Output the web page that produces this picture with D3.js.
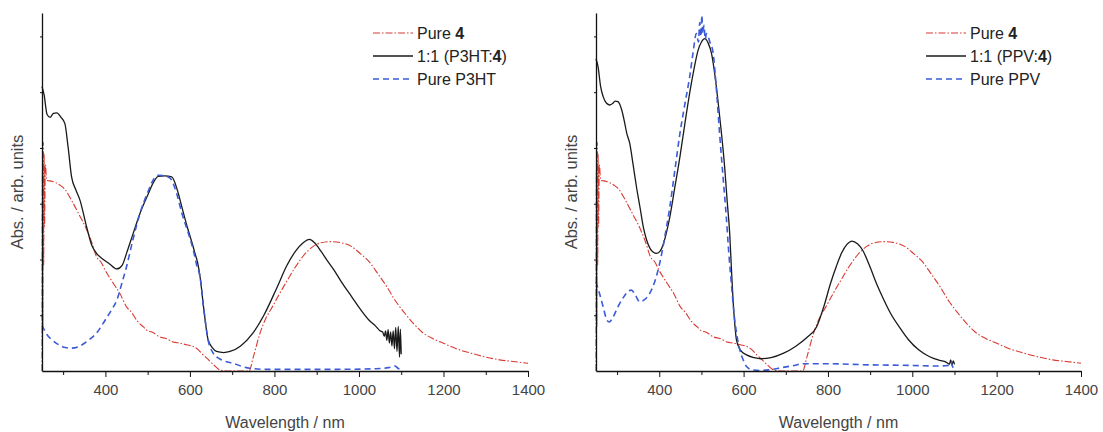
<!DOCTYPE html>
<html>
<head>
<meta charset="utf-8">
<script src="https://cdn.jsdelivr.net/npm/d3@7"></script>
<style>
  body { margin: 0; background: #fff; }
  svg { font-family: "Liberation Sans", Arial, sans-serif; }
  .tick text { fill: #444; font-size: 15px; }
  .domain, .tick line { stroke: #111; }
</style>
</head>
<body>
<svg id="chart" width="1103" height="432"></svg>
<script>
// wavelength (nm), absorbance (arb. units) pairs
var pure4 = [[250,0],[251,3.6],[252,0.8],[253,4.1],[254,1.9],[255,3.9],[256,2.6],[258,3.7],[261,3.42],[275,3.4],[293,3.33],[305,3.25],[320,3.06],[338,2.8],[356,2.53],[368,2.3],[379,2.05],[390,1.95],[400,1.8],[419,1.57],[435,1.38],[450,1.15],[462,1.05],[475,0.9],[490,0.79],[500,0.72],[510,0.7],[529,0.61],[545,0.58],[560,0.52],[577,0.5],[592,0.47],[608,0.44],[620,0.38],[630,0.3],[640,0.23],[655,0.12],[671,0.02],[690,0],[740,0],[750,0.25],[766,0.68],[780,0.95],[795,1.15],[808,1.33],[830,1.62],[850,1.87],[870,2.08],[891,2.23],[910,2.3],[933,2.32],[958,2.3],[983,2.23],[1004,2.1],[1024,1.96],[1045,1.74],[1066,1.51],[1087,1.25],[1108,1.04],[1128,0.86],[1149,0.7],[1175,0.58],[1199,0.5],[1230,0.4],[1265,0.32],[1300,0.25],[1333,0.2],[1365,0.17],[1400,0.14]];

var blendP3HT = [[250,5.1],[255,4.95],[262,4.6],[269,4.55],[277,4.62],[285,4.63],[295,4.55],[304,4.44],[312,4.0],[320,3.48],[330,3.25],[340,3.06],[355,2.6],[368,2.25],[379,2.11],[395,2.0],[410,1.92],[427,1.83],[440,1.9],[450,2.11],[465,2.45],[482,2.83],[500,3.15],[515,3.4],[525,3.49],[540,3.5],[557,3.48],[570,3.25],[581,2.94],[595,2.55],[605,2.3],[612,2.11],[618,1.95],[624,1.69],[633,1.1],[643,0.56],[653,0.42],[663,0.35],[680,0.33],[695,0.35],[720,0.45],[749,0.68],[775,1.0],[805,1.48],[830,1.9],[850,2.15],[868,2.3],[883,2.36],[895,2.3],[910,2.15],[925,1.98],[941,1.81],[960,1.58],[983,1.33],[1004,1.1],[1024,0.91],[1040,0.8],[1050,0.72],[1056,0.7],[1060,0.62],[1063,0.72],[1066,0.55],[1069,0.74],[1072,0.5],[1075,0.7],[1078,0.45],[1081,0.72],[1084,0.4],[1087,0.78],[1090,0.35],[1093,0.8],[1096,0.25],[1098,0.75],[1100,0.3]];

var pureP3HT = [[250,0.82],[262,0.65],[275,0.55],[290,0.47],[305,0.42],[320,0.41],[340,0.45],[360,0.55],[379,0.68],[400,0.92],[415,1.1],[427,1.27],[440,1.6],[450,1.87],[465,2.35],[482,2.83],[500,3.2],[515,3.45],[525,3.51],[540,3.5],[553,3.46],[568,3.2],[581,2.83],[595,2.5],[608,2.17],[616,1.9],[624,1.69],[633,1.1],[643,0.56],[655,0.32],[670,0.22],[685,0.17],[702,0.14],[720,0.09],[742,0.05],[780,0.03],[850,0.03],[950,0.03],[1040,0.04],[1070,0.06],[1085,0.09],[1092,0.05],[1100,0.03]];

var blendPPV = [[250,5.6],[255,5.45],[261,5.1],[267,4.92],[275,4.8],[283,4.77],[290,4.8],[295,4.84],[302,4.83],[311,4.68],[318,4.45],[323,4.26],[330,4.08],[338,3.7],[346,3.3],[354,2.95],[362,2.59],[370,2.35],[378,2.2],[386,2.13],[394,2.11],[402,2.15],[409,2.26],[417,2.48],[425,2.76],[437,3.3],[449,3.84],[461,4.45],[472,4.98],[482,5.4],[492,5.75],[500,5.9],[508,5.96],[516,5.88],[524,5.69],[532,5.3],[539,4.86],[547,4.3],[555,3.66],[561,3.05],[567,2.47],[571,1.85],[575,1.27],[579,0.85],[583,0.56],[592,0.38],[607,0.29],[625,0.24],[641,0.22],[665,0.24],[695,0.32],[723,0.44],[750,0.6],[773,0.79],[790,1.15],[806,1.57],[820,1.88],[832,2.11],[845,2.27],[857,2.33],[870,2.28],[882,2.17],[898,1.9],[915,1.57],[931,1.3],[948,1.04],[970,0.78],[991,0.56],[1015,0.38],[1040,0.26],[1065,0.19],[1080,0.16],[1088,0.12],[1091,0.2],[1094,0.1],[1097,0.18],[1100,0.12]];

var purePPV = [[250,1.6],[258,1.4],[267,1.15],[274,0.95],[281,0.88],[290,0.96],[302,1.15],[315,1.32],[325,1.42],[334,1.45],[344,1.35],[354,1.24],[365,1.28],[378,1.4],[390,1.62],[401,1.93],[413,2.4],[425,2.94],[437,3.6],[449,4.26],[461,4.8],[472,5.27],[480,5.7],[488,6.05],[493,5.9],[496,6.25],[499,6.0],[501,6.38],[503,6.05],[506,6.2],[509,5.95],[512,6.05],[520,5.9],[528,5.69],[535,5.1],[543,4.26],[551,3.5],[559,2.76],[565,2.1],[571,1.57],[575,1.2],[579,0.91],[585,0.6],[591,0.38],[599,0.2],[607,0.08],[620,0.02],[640,0.01],[660,0.02],[690,0.06],[720,0.1],[740,0.13],[800,0.13],[900,0.11],[1000,0.1],[1060,0.09],[1085,0.1],[1092,0.16],[1096,0.07],[1100,0.05]];

var majorTicks = [400, 600, 800, 1000, 1200, 1400];
var minorTicks = [300, 500, 700, 900, 1100, 1300];
var yTicks = [1, 2, 3, 4, 5, 6];

var styles = {
	red: { stroke: '#d93a32', width: 1.1, dash: '7,2,1.5,2' },
	black: { stroke: '#1a1a1a', width: 1.3, dash: null },
	blue: { stroke: '#3b5bd9', width: 1.6, dash: '6,4' }
};

var svg = d3.select('#chart');
var yScale = d3.scaleLinear().domain([0, 6.42]).range([371, 13]);

function drawPanel(left, right, series, legendX, labels) {
	var x = d3.scaleLinear().domain([250, 1400]).range([left, right]);
	var g = svg.append('g');

	var line = d3.line()
		.x(function(d) { return x(d[0]); })
		.y(function(d) { return yScale(d[1]); })
		.curve(d3.curveMonotoneX);

	series.forEach(function(s) {
		g.append('path')
			.datum(s.data)
			.attr('d', line)
			.attr('fill', 'none')
			.attr('stroke', styles[s.style].stroke)
			.attr('stroke-width', styles[s.style].width)
			.attr('stroke-dasharray', styles[s.style].dash);
	});

	// axes
	g.append('g')
		.attr('transform', 'translate(0,371)')
		.call(d3.axisBottom(x).tickValues(majorTicks).tickSize(6).tickSizeOuter(0).tickPadding(7).tickFormat(d3.format('d')))
		.call(function(a) { a.select('.domain').attr('stroke-width', 1.3); });
	g.append('g')
		.attr('transform', 'translate(0,371)')
		.call(d3.axisBottom(x).tickValues(minorTicks).tickSize(4).tickFormat(''))
		.call(function(a) { a.select('.domain').remove(); });
	g.append('g')
		.attr('transform', 'translate(' + left + ',0)')
		.call(d3.axisLeft(yScale).tickValues(yTicks).tickSize(2).tickSizeOuter(0).tickFormat(''))
		.call(function(a) { a.select('.domain').attr('stroke-width', 1.3); });

	g.append('text')
		.attr('x', (left + right) / 2)
		.attr('y', 428)
		.attr('text-anchor', 'middle')
		.attr('fill', '#444')
		.style('font-size', '16px')
		.text('Wavelength / nm');

	g.append('text')
		.attr('transform', 'translate(' + (left - 19) + ',192) rotate(-90)')
		.attr('text-anchor', 'middle')
		.attr('fill', '#444')
		.style('font-size', '16.5px')
		.text('Abs. / arb. units');

	// legend
	var leg = g.append('g').attr('transform', 'translate(' + legendX + ',0)');
	series.forEach(function(s, i) {
		var yy = 33 + i * 23;
		leg.append('line')
			.attr('x1', 0).attr('x2', 40)
			.attr('y1', yy).attr('y2', yy)
			.attr('stroke', styles[s.style].stroke)
			.attr('stroke-width', styles[s.style].width)
			.attr('stroke-dasharray', styles[s.style].dash);
		var t = leg.append('text')
			.attr('x', 44).attr('y', yy + 5.5)
			.attr('fill', '#222')
			.style('font-size', '16px');
		labels[i].forEach(function(part) {
			t.append('tspan')
				.attr('font-weight', part.bold ? 'bold' : null)
				.text(part.t);
		});
	});
}

drawPanel(42, 528, [
	{ data: pure4, style: 'red' },
	{ data: blendP3HT, style: 'black' },
	{ data: pureP3HT, style: 'blue' }
], 373, [
	[{ t: 'Pure ' }, { t: '4', bold: true }],
	[{ t: '1:1 (P3HT:' }, { t: '4', bold: true }, { t: ')' }],
	[{ t: 'Pure P3HT' }]
]);

drawPanel(596, 1081, [
	{ data: pure4, style: 'red' },
	{ data: blendPPV, style: 'black' },
	{ data: purePPV, style: 'blue' }
], 926, [
	[{ t: 'Pure ' }, { t: '4', bold: true }],
	[{ t: '1:1 (PPV:' }, { t: '4', bold: true }, { t: ')' }],
	[{ t: 'Pure PPV' }]
]);
</script>
</body>
</html>
